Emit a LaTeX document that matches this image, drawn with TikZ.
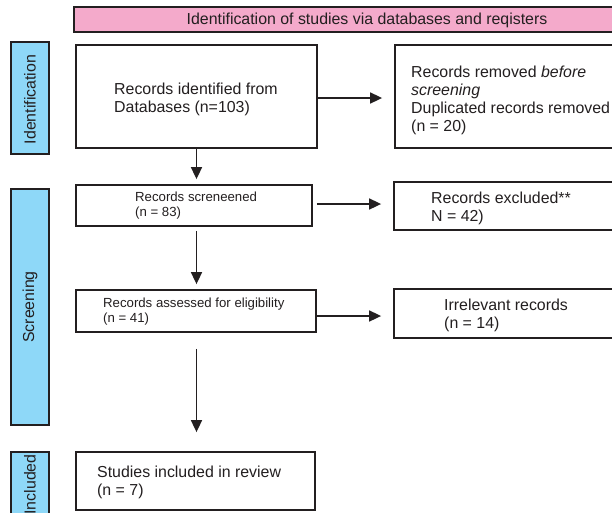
\documentclass[tikz,border=0pt]{standalone}
\usepackage{fontspec}
\setmainfont{Liberation Sans}
\usetikzlibrary{arrows.meta,calc}
\definecolor{edge}{HTML}{231F20}
\definecolor{sideblue}{HTML}{8ED8F8}
\definecolor{bannerpink}{HTML}{F4AACB}
\tikzset{
  boxstyle/.style={draw=edge, line width=1.8pt, fill=white, inner sep=0pt},
  sidebox/.style={draw=edge, line width=1.8pt, fill=sideblue, inner sep=0pt, minimum width=38pt},
  sidetext/.style={rotate=90, font=\fontsize{15.9}{18}\selectfont, text=edge, inner sep=0pt},
  bigtext/.style={anchor=west, align=left, inner sep=0pt, text=edge, font=\fontsize{15.9}{18}\selectfont},
  smalltext/.style={anchor=west, align=left, inner sep=0pt, text=edge, font=\fontsize{13.2}{15}\selectfont},
  arr/.style={draw=edge, line width=1.7pt, -{Triangle[length=12pt,width=11pt]}}
}
\begin{document}
\begin{tikzpicture}[x=1pt,y=-1pt]
\clip (0,0) rectangle (612,512);
\fill[white] (0,0) rectangle (612,512);
% banner
\node[boxstyle, fill=bannerpink, minimum width=586pt, minimum height=25pt] (banner) at (367,19.5) {};
\node[inner sep=0pt, text=edge, font=\fontsize{15.9}{18}\selectfont] (bannertext) at (367,20) {Identification of studies via databases and reqisters};
% side labels
\node[sidebox, minimum height=112pt] (idside) at (30,98) {};
\node[sidetext] (idtext) at (30,99.5) {Identification};
\node[sidebox, minimum height=236pt] (scside) at (30,307) {};
\node[sidetext] (sctext) at (30,307) {Screening};
\node[sidebox, minimum height=70pt] (inside) at (30,487) {};
\node[sidetext] (intext) at (30,484.5) {Included};
% boxes
\node[boxstyle, minimum width=241pt, minimum height=103pt] (b1) at (196.5,96.5) {};
\node[bigtext] (t1) at (114,99) {Records identified from\\Databases (n=103)};
\node[boxstyle, minimum width=265pt, minimum height=103pt] (rem) at (527.5,96.5) {};
\node[bigtext] (trem) at (411,100) {Records removed \textit{before}\\\textit{screening}\\Duplicated records removed\\(n = 20)};
\node[boxstyle, minimum width=236pt, minimum height=41pt] (sc) at (194,205.5) {};
\node[smalltext] (tsc) at (135,205.5) {Records screneened\\(n = 83)};
\node[boxstyle, minimum width=266pt, minimum height=48pt] (exc) at (527,206) {};
\node[bigtext] (texc) at (431,208.5) {Records excluded**\\N = 42)};
\node[boxstyle, minimum width=240pt, minimum height=42pt] (as) at (196,311) {};
\node[smalltext] (tas) at (103,312) {Records assessed for eligibility\\(n = 41)};
\node[boxstyle, minimum width=266pt, minimum height=49pt] (irr) at (527,313.5) {};
\node[bigtext] (tirr) at (444,315) {Irrelevant records\\(n = 14)};
\node[boxstyle, minimum width=239pt, minimum height=58pt] (st) at (195.5,481) {};
\node[bigtext] (tst) at (97,482) {Studies included in review\\(n = 7)};
% arrows
\draw[arr, shorten >=12pt] ([yshift=-1.5pt]b1.east) -- ([yshift=-1.5pt]b1.east -| rem.west);
\draw[arr, shorten >=5pt] (b1.south) -- (b1.south |- sc.north);
\draw[arr, shorten <=4pt, shorten >=12pt] ([yshift=1.5pt]sc.east) -- ([yshift=1.5pt]sc.east -| exc.west);
\draw[arr, shorten <=4pt, shorten >=5pt] (sc.south -| b1.south) -- (as.north -| b1.south);
\draw[arr, shorten >=12pt] ([yshift=-5pt]as.east) -- ([yshift=-5pt]as.east -| irr.west);
\draw[arr, shorten <=16pt, shorten >=19pt] (as.south -| b1.south) -- (st.north -| b1.south);
\end{tikzpicture}
\end{document}
